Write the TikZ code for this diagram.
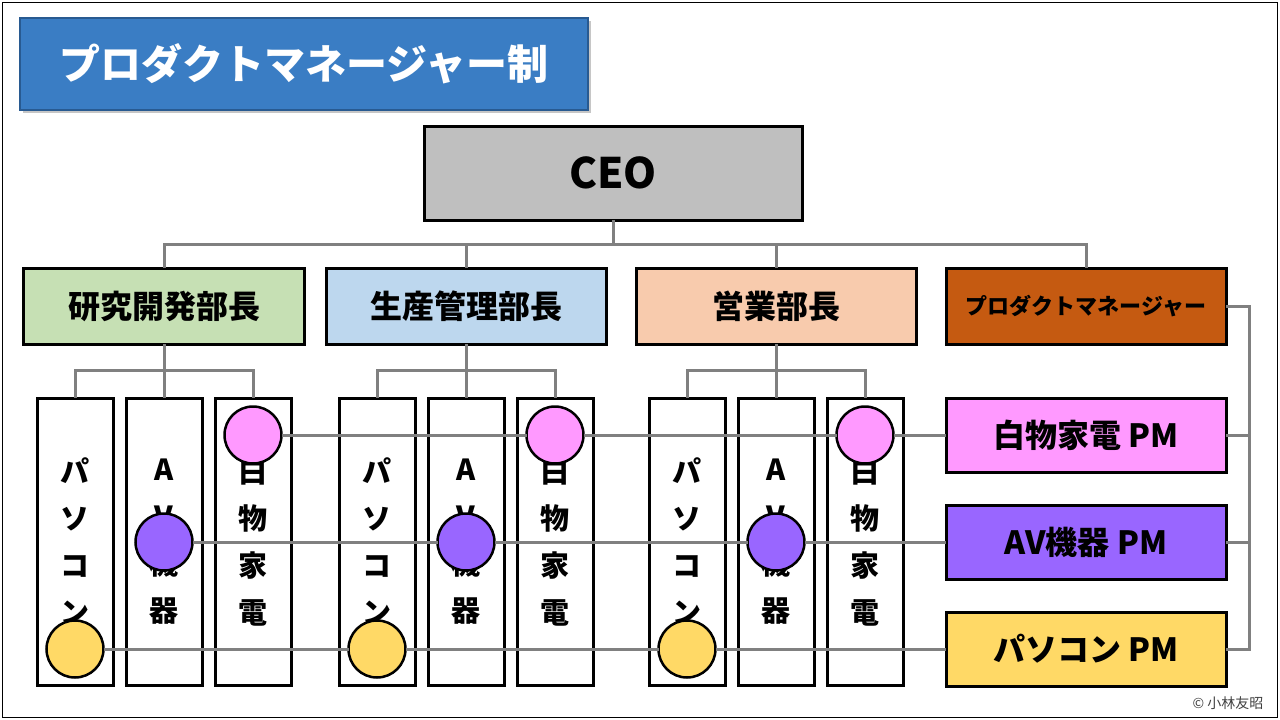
\documentclass[tikz,border=0pt]{standalone}
\usepackage{fontspec}
\setmainfont{Noto Sans CJK JP}
\usetikzlibrary{positioning,shadows}

\definecolor{titleblue}{RGB}{58,125,196}
\definecolor{titleedge}{RGB}{40,90,145}
\definecolor{ceogray}{RGB}{191,191,191}
\definecolor{rdgreen}{RGB}{198,224,180}
\definecolor{prblue}{RGB}{189,215,238}
\definecolor{slorange}{RGB}{248,203,173}
\definecolor{pmbrown}{RGB}{197,90,17}
\definecolor{wpink}{RGB}{255,153,255}
\definecolor{vpurple}{RGB}{153,102,255}
\definecolor{pyellow}{RGB}{255,217,102}
\definecolor{linkgray}{RGB}{128,128,128}

\begin{document}
\begin{tikzpicture}[x=1pt,y=-1pt,
	box/.style={draw, line width=3pt, outer sep=0pt, inner sep=2pt},
	dept/.style={box, minimum width=281pt, minimum height=76pt, font=\bfseries\fontsize{32}{38}\selectfont},
	col/.style={box, fill=white, minimum width=76pt, minimum height=287pt, align=center, font=\bfseries\fontsize{29}{47}\selectfont},
	dot/.style={circle, draw, line width=2.5pt, minimum size=57pt, inner sep=0pt, outer sep=0pt},
	pmbox/.style={box, minimum width=280pt, minimum height=74pt, font=\bfseries\fontsize{32}{38}\selectfont},
	link/.style={draw=linkgray, line width=3pt}]
	\useasboundingbox (0,0) rectangle (1280,720);
	\draw[line width=1.2pt] (2.5,2.5) rectangle (1277.5,717.5);
	
	\node[draw=titleedge, line width=1.5pt, fill=titleblue, minimum width=568pt, minimum height=92pt,
		drop shadow={shadow xshift=3pt, shadow yshift=-3pt, opacity=.45},
		text=white, font=\bfseries\fontsize{41}{48}\selectfont] (ttl) at (304,64) {プロダクトマネージャー制};
	
	\node[box, fill=ceogray, minimum width=378pt, minimum height=94pt, font=\bfseries\fontsize{42}{48}\selectfont] (ceo) at (613,173) {CEO};
	
	\node[dept, fill=rdgreen] (rd) at (164,306) {研究開発部長};
	\node[dept, fill=prblue, minimum width=280pt] (pr) at (466,306) {生産管理部長};
	\node[dept, fill=slorange, minimum width=280pt] (sl) at (776,306) {営業部長};
	\node[dept, fill=pmbrown, minimum width=280pt, font=\bfseries\fontsize{22}{26}\selectfont] (pm) at (1086,306) {プロダクトマネージャー};
	
	\coordinate (bus) at (0,244);
	\draw[link] (ceo) -- (ceo |- bus);
	\draw[link] (rd) -- (rd |- bus) -- (pm |- bus) -- (pm);
	\draw[link] (pr) -- (pr |- bus);
	\draw[link] (sl) -- (sl |- bus);
	
	\node[col, below=54pt of rd] (rd2) {A\\V\\機\\器};
	\node[col, left=13pt of rd2] (rd1) {パ\\ソ\\コ\\ン};
	\node[col, right=13pt of rd2] (rd3) {白\\物\\家\\電};
	\node[col, below=54pt of pr] (pr2) {A\\V\\機\\器};
	\node[col, left=13pt of pr2] (pr1) {パ\\ソ\\コ\\ン};
	\node[col, right=13pt of pr2] (pr3) {白\\物\\家\\電};
	\node[col, below=54pt of sl] (sl2) {A\\V\\機\\器};
	\node[col, left=13pt of sl2] (sl1) {パ\\ソ\\コ\\ン};
	\node[col, right=13pt of sl2] (sl3) {白\\物\\家\\電};
	
	\foreach \d in {rd,pr,sl} {
		\draw[link] (\d.south) -- ++(0,26) coordinate (\d j);
		\draw[link] (\d1) |- (\d j) -| (\d3);
		\draw[link] (\d j) -- (\d2);
	}
	
	\coordinate (wrow) at (0,435);
	\coordinate (vrow) at (0,542);
	\coordinate (prow) at (0,649);
	
	\node[pmbox, fill=wpink] (wpm) at (pm |- wrow) {白物家電 PM};
	\node[pmbox, fill=vpurple] (vpm) at (pm |- vrow) {AV機器 PM};
	\node[pmbox, fill=pyellow] (ppm) at (pm |- prow) {パソコン PM};
	
	\foreach \d in {rd,pr,sl} {
		\node[dot, fill=wpink] (\d w) at (\d3 |- wrow) {};
		\node[dot, fill=vpurple] (\d v) at (\d2 |- vrow) {};
		\node[dot, fill=pyellow] (\d p) at (\d1 |- prow) {};
	}
	
	\draw[link] (rdw) -- (prw) -- (slw) -- (wpm);
	\draw[link] (rdv) -- (prv) -- (slv) -- (vpm);
	\draw[link] (rdp) -- (prp) -- (slp) -- (ppm);
	
	\coordinate (rbus) at (1249,0);
	\draw[link] (pm) -- (pm -| rbus) |- (ppm);
	\draw[link] (wpm) -- (wpm -| rbus);
	\draw[link] (vpm) -- (vpm -| rbus);
	
	\node[anchor=east, text=black!75, font=\fontsize{14}{16}\selectfont] (copy) at (1267,703) {© 小林友昭};
\end{tikzpicture}
\end{document}
